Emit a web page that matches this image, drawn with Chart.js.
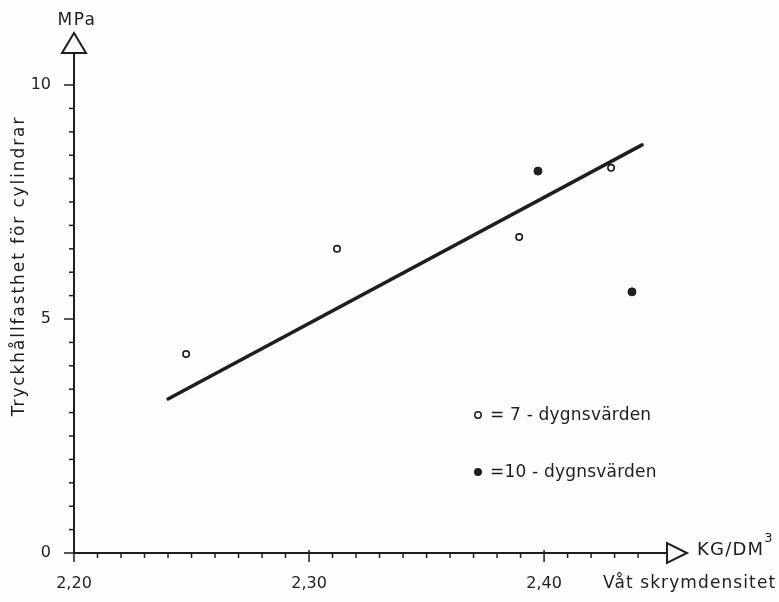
<!DOCTYPE html>
<html>
<head>
<title>Tryckhållfasthet</title>
<script src="https://cdn.jsdelivr.net/npm/chart.js@4.4.1/dist/chart.umd.min.js"></script>
<style>
  body { margin: 0; background: #fdfdfd; }
</style>
</head>
<body>
<canvas id="myChart" width="779" height="602"></canvas>
<script>
// 7-dygnsvärden (open circles)
var sevenX = [2.2477, 2.3119, 2.3894, 2.4285];
var sevenY = [4.25, 6.50, 6.75, 8.23];
// 10-dygnsvärden (filled circles)
var tenX = [2.3974, 2.4374];
var tenY = [8.16, 5.58];
// fitted line, end points
var fitX = [2.240, 2.4417];
var fitY = [3.29, 8.72];
// labelled ticks
var xMajor = [2.20, 2.30, 2.40];
var yMajor = [0, 5, 10];

var ink = '#1e1e1e';
var font = 'DejaVu Sans';

function pts(xs, ys) {
    var out = [];
    for (var i = 0; i < xs.length; i++) out.push({x: xs[i], y: ys[i]});
    return out;
}

function isMajor(list, v) {
    for (var i = 0; i < list.length; i++) {
        if (Math.abs(list[i] - v) < 1e-6) return true;
    }
    return false;
}

var decor = {
    id: 'decor',
    beforeDraw: function (chart) {
        var ctx = chart.ctx;
        ctx.save();
        ctx.fillStyle = '#fdfdfd';
        ctx.fillRect(0, 0, chart.width, chart.height);
        ctx.restore();
    },
    afterDraw: function (chart) {
        var ctx = chart.ctx;
        var x = chart.scales.x, y = chart.scales.y, a = chart.chartArea;
        ctx.save();
        ctx.strokeStyle = ink;
        ctx.fillStyle = ink;
        ctx.lineWidth = 1.5;

        // tick marks
        x.ticks.forEach(function (t) {
            var k = t.value * 100;
            if (Math.abs(k - Math.round(k)) > 1e-6) return;
            var px = x.getPixelForValue(t.value);
            var big = isMajor(xMajor, t.value);
            ctx.beginPath();
            ctx.moveTo(px, a.bottom - (big ? 3 : 0));
            ctx.lineTo(px, a.bottom + (big ? 9 : 5));
            ctx.stroke();
        });
        y.ticks.forEach(function (t) {
            var k = t.value * 2;
            if (Math.abs(k - Math.round(k)) > 1e-6) return;
            var py = y.getPixelForValue(t.value);
            var big = isMajor(yMajor, t.value);
            ctx.beginPath();
            ctx.moveTo(a.left + (big ? 1 : 0), py);
            ctx.lineTo(a.left - (big ? 10 : 5), py);
            ctx.stroke();
        });

        // arrow heads
        ctx.lineWidth = 2;
        ctx.fillStyle = '#fdfdfd';
        ctx.beginPath();
        ctx.moveTo(a.left - 12, a.top);
        ctx.lineTo(a.left + 12, a.top);
        ctx.lineTo(a.left, a.top - 20);
        ctx.closePath();
        ctx.fill();
        ctx.stroke();
        ctx.beginPath();
        ctx.moveTo(a.right, a.bottom - 10);
        ctx.lineTo(a.right, a.bottom + 10);
        ctx.lineTo(a.right + 20, a.bottom);
        ctx.closePath();
        ctx.fill();
        ctx.stroke();

        // axis texts
        ctx.fillStyle = ink;
        ctx.textBaseline = 'middle';
        ctx.font = '17px "' + font + '"';
        ctx.letterSpacing = '1.5px';
        ctx.textAlign = 'center';
        ctx.fillText('MPa', a.left + 3, 21);
        ctx.textAlign = 'left';
        ctx.font = '18px "' + font + '"';
        ctx.letterSpacing = '1.2px';
        ctx.fillText('KG/DM', a.right + 30, a.bottom - 3);
        var w = ctx.measureText('KG/DM').width;
        ctx.font = '13px "' + font + '"';
        ctx.letterSpacing = '0px';
        ctx.fillText('3', a.right + 30 + w, a.bottom - 14);
        ctx.font = '17px "' + font + '"';
        ctx.letterSpacing = '1.1px';
        ctx.fillText('Våt skrymdensitet', 603, 584);

        ctx.save();
        ctx.translate(20, 266);
        ctx.rotate(-Math.PI / 2);
        ctx.textAlign = 'center';
        ctx.letterSpacing = '1.9px';
        ctx.fillText('Tryckhållfasthet för cylindrar', 0, 0);
        ctx.restore();

        // legend
        ctx.font = '17px "' + font + '"';
        ctx.letterSpacing = '0.2px';
        ctx.fillText('= 7 - dygnsvärden', 490, 416);
        ctx.fillText('=10 - dygnsvärden', 490, 473);
        ctx.lineWidth = 1.5;
        ctx.beginPath();
        ctx.arc(478, 415, 3.2, 0, Math.PI * 2);
        ctx.fillStyle = '#fdfdfd';
        ctx.fill();
        ctx.stroke();
        ctx.beginPath();
        ctx.arc(478, 472, 4, 0, Math.PI * 2);
        ctx.fillStyle = ink;
        ctx.fill();
        ctx.restore();
    }
};

new Chart(document.getElementById('myChart'), {
    type: 'scatter',
    plugins: [decor],
    data: {
        datasets: [
            {
                label: 'fit',
                data: pts(fitX, fitY),
                showLine: true,
                borderColor: ink,
                borderWidth: 3.5,
                borderCapStyle: 'round',
                pointRadius: 0
            },
            {
                label: '7 - dygnsvärden',
                data: pts(sevenX, sevenY),
                pointRadius: 3.2,
                pointBorderWidth: 1.6,
                pointBackgroundColor: '#fdfdfd',
                pointBorderColor: ink
            },
            {
                label: '10 - dygnsvärden',
                data: pts(tenX, tenY),
                pointRadius: 4,
                pointBorderWidth: 1,
                pointBackgroundColor: ink,
                pointBorderColor: ink
            }
        ]
    },
    options: {
        responsive: false,
        animation: false,
        events: [],
        layout: { padding: { top: 53, right: 112, left: 0, bottom: 0 } },
        plugins: { legend: { display: false }, tooltip: { enabled: false } },
        scales: {
            x: {
                type: 'linear',
                min: 2.20,
                max: 2.4523,
                grid: { display: false, drawTicks: false },
                border: { display: true, width: 2, color: ink },
                afterFit: function (s) { s.height = 49; },
                ticks: {
                    stepSize: 0.01,
                    autoSkip: false,
                    maxRotation: 0,
                    padding: 21,
                    color: ink,
                    font: { family: font, size: 16 },
                    callback: function (v) {
                        return isMajor(xMajor, v) ? v.toFixed(2).replace('.', ',') : '';
                    }
                }
            },
            y: {
                type: 'linear',
                min: 0,
                max: 10.684,
                grid: { display: false, drawTicks: false },
                border: { display: true, width: 2, color: ink },
                afterFit: function (s) { s.width = 74; },
                ticks: {
                    stepSize: 0.5,
                    autoSkip: false,
                    padding: 23,
                    color: ink,
                    font: { family: font, size: 16 },
                    callback: function (v) {
                        return isMajor(yMajor, v) ? String(v) : '';
                    }
                }
            }
        }
    }
});
</script>
</body>
</html>
